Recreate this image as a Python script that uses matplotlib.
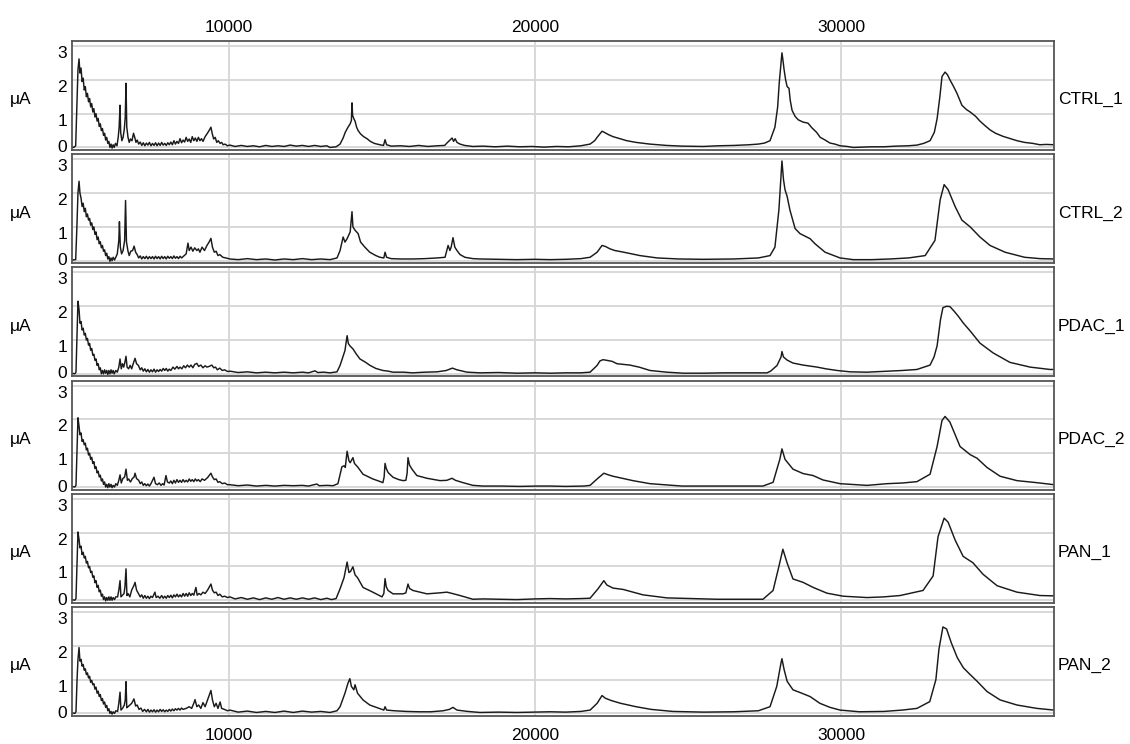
import matplotlib
matplotlib.use("Agg")
import matplotlib.pyplot as plt
import matplotlib.transforms as mtransforms
import numpy as np

plt.rcParams['font.family'] = ['Liberation Sans', 'DejaVu Sans']

# ---------------- data (m/z, current in uA) ----------------
samples = ["CTRL_1", "CTRL_2", "PDAC_1", "PDAC_2", "PAN_1", "PAN_2"]

ctrl_1 = [
    (4870, 0.02), (4930, 0.0), (4990, 0.05), (5030, 1.3), (5065, 2.3), (5100, 2.62), (5130, 2.2), (5165, 2.35),
    (5200, 1.95), (5235, 2.05), (5270, 1.7), (5305, 1.8), (5340, 1.5), (5375, 1.6), (5410, 1.35), (5445, 1.45),
    (5480, 1.2), (5515, 1.3), (5550, 1.05), (5585, 1.15), (5620, 0.9), (5655, 1.0), (5690, 0.78), (5725, 0.86),
    (5760, 0.62), (5795, 0.7), (5830, 0.5), (5865, 0.56), (5900, 0.36), (5935, 0.42), (5970, 0.22), (6005, 0.3),
    (6040, 0.12), (6075, 0.18), (6110, 0.0), (6145, 0.1), (6180, -0.02), (6215, 0.08), (6250, 0.0), (6290, 0.12),
    (6340, 0.05), (6380, 0.3), (6410, 0.6), (6440, 1.25), (6460, 0.45), (6500, 0.2), (6540, 0.3), (6580, 0.55),
    (6610, 0.9), (6635, 1.9), (6660, 0.6), (6700, 0.3), (6740, 0.15), (6780, 0.25), (6830, 0.2), (6880, 0.42),
    (6920, 0.3), (6960, 0.15), (7000, 0.22), (7050, 0.1), (7100, 0.16), (7150, 0.06), (7200, 0.14), (7250, 0.05),
    (7300, 0.13), (7350, 0.07), (7400, 0.15), (7450, 0.05), (7500, 0.12), (7550, 0.06), (7600, 0.14), (7650, 0.05),
    (7700, 0.13), (7750, 0.06), (7800, 0.15), (7850, 0.07), (7900, 0.12), (7950, 0.06), (8000, 0.14), (8050, 0.08),
    (8100, 0.16), (8150, 0.08), (8200, 0.2), (8250, 0.1), (8300, 0.18), (8350, 0.12), (8400, 0.26), (8450, 0.14),
    (8500, 0.22), (8550, 0.16), (8600, 0.3), (8650, 0.18), (8700, 0.25), (8750, 0.15), (8800, 0.32), (8850, 0.2),
    (8900, 0.28), (8950, 0.18), (9000, 0.3), (9050, 0.2), (9100, 0.26), (9150, 0.18), (9220, 0.32), (9280, 0.4),
    (9350, 0.5), (9410, 0.6), (9450, 0.42), (9500, 0.25), (9550, 0.3), (9600, 0.15), (9650, 0.2), (9710, 0.12),
    (9760, 0.15), (9810, 0.08), (9870, 0.1), (9950, 0.05), (10030, 0.07), (10200, 0.03), (10400, 0.06), (10600, 0.03),
    (10800, 0.05), (11000, 0.02), (11200, 0.06), (11400, 0.03), (11600, 0.05), (11800, 0.03), (12000, 0.07),
    (12200, 0.04), (12400, 0.06), (12600, 0.03), (12800, 0.06), (13000, 0.03), (13200, 0.05), (13300, 0.0),
    (13500, 0.02), (13630, 0.1), (13730, 0.28), (13800, 0.45), (13890, 0.6), (13960, 0.7), (14000, 0.8),
    (14020, 1.32), (14040, 0.95), (14080, 0.85), (14120, 0.78), (14170, 0.6), (14220, 0.5), (14300, 0.4),
    (14400, 0.32), (14510, 0.26), (14620, 0.18), (14750, 0.12), (14930, 0.08), (15050, 0.06), (15100, 0.23),
    (15150, 0.08), (15300, 0.04), (15600, 0.05), (15900, 0.03), (16200, 0.06), (16500, 0.03), (16800, 0.05),
    (17050, 0.06), (17120, 0.13), (17200, 0.2), (17290, 0.28), (17340, 0.18), (17390, 0.26), (17450, 0.15),
    (17550, 0.1), (17700, 0.06), (17970, 0.03), (18300, 0.04), (18700, 0.02), (19100, 0.04), (19500, 0.02),
    (19900, 0.03), (20300, 0.01), (20700, 0.03), (21100, 0.02), (21500, 0.05), (21800, 0.1), (21950, 0.2),
    (22030, 0.3), (22120, 0.4), (22190, 0.48), (22260, 0.45), (22400, 0.38), (22550, 0.32), (22780, 0.26),
    (23000, 0.2), (23300, 0.15), (23750, 0.1), (24300, 0.06), (24800, 0.04), (25500, 0.03), (26000, 0.05),
    (26500, 0.06), (27000, 0.08), (27300, 0.1), (27500, 0.13), (27680, 0.2), (27840, 0.6), (27930, 1.2),
    (27980, 1.9), (28040, 2.5), (28070, 2.8), (28100, 2.6), (28140, 2.3), (28190, 2.0), (28240, 1.8),
    (28300, 1.75), (28340, 1.4), (28400, 1.1), (28500, 0.92), (28600, 0.82), (28760, 0.75), (28920, 0.72),
    (29050, 0.58), (29200, 0.45), (29320, 0.3), (29480, 0.22), (29640, 0.13), (29800, 0.1), (29970, 0.05),
    (30200, 0.03), (30400, 0.0), (30700, 0.01), (31000, 0.02), (31400, 0.02), (31800, 0.04), (32200, 0.05),
    (32480, 0.07), (32700, 0.12), (32910, 0.2), (33050, 0.45), (33140, 0.85), (33230, 1.5), (33300, 2.1),
    (33400, 2.23), (33480, 2.15), (33560, 2.0), (33680, 1.8), (33790, 1.6), (33950, 1.25), (34100, 1.12),
    (34220, 1.05), (34400, 0.92), (34540, 0.78), (34700, 0.65), (34870, 0.52), (35050, 0.42), (35290, 0.33),
    (35500, 0.27), (35750, 0.2), (36000, 0.15), (36270, 0.12), (36500, 0.08), (36700, 0.09), (36960, 0.08),
]

ctrl_2 = [
    (4870, 0.02), (4990, 0.03), (5030, 1.0), (5065, 2.0), (5100, 2.35), (5130, 2.0), (5165, 1.85), (5200, 1.6),
    (5235, 1.7), (5270, 1.45), (5305, 1.55), (5340, 1.3), (5375, 1.38), (5410, 1.2), (5445, 1.25), (5480, 1.05),
    (5515, 1.12), (5550, 0.92), (5585, 1.0), (5620, 0.78), (5655, 0.85), (5690, 0.62), (5725, 0.7), (5760, 0.5),
    (5795, 0.56), (5830, 0.38), (5865, 0.45), (5900, 0.28), (5935, 0.32), (5970, 0.15), (6005, 0.22), (6040, 0.05),
    (6075, 0.12), (6110, -0.02), (6145, 0.08), (6180, 0.0), (6215, 0.1), (6260, 0.02), (6300, 0.1), (6350, 0.2),
    (6400, 0.6), (6420, 1.15), (6450, 0.4), (6490, 0.2), (6540, 0.3), (6590, 0.6), (6620, 1.78), (6650, 0.55),
    (6700, 0.28), (6740, 0.15), (6790, 0.28), (6850, 0.3), (6900, 0.43), (6950, 0.25), (7000, 0.18), (7050, 0.08),
    (7100, 0.14), (7150, 0.05), (7200, 0.12), (7250, 0.06), (7300, 0.13), (7350, 0.05), (7400, 0.12), (7450, 0.06),
    (7500, 0.12), (7550, 0.05), (7600, 0.13), (7650, 0.06), (7700, 0.12), (7750, 0.05), (7800, 0.13), (7850, 0.06),
    (7900, 0.12), (7950, 0.05), (8000, 0.13), (8050, 0.07), (8100, 0.12), (8150, 0.06), (8200, 0.14), (8250, 0.07),
    (8300, 0.12), (8350, 0.06), (8400, 0.13), (8450, 0.08), (8500, 0.12), (8600, 0.2), (8660, 0.52), (8700, 0.3),
    (8760, 0.4), (8820, 0.28), (8880, 0.38), (8950, 0.3), (9000, 0.35), (9050, 0.25), (9120, 0.4), (9200, 0.3),
    (9280, 0.45), (9350, 0.55), (9410, 0.66), (9460, 0.4), (9520, 0.25), (9580, 0.28), (9640, 0.15), (9700, 0.18),
    (9800, 0.1), (9900, 0.08), (10030, 0.05), (10300, 0.03), (10600, 0.06), (10900, 0.03), (11200, 0.05),
    (11500, 0.02), (11800, 0.05), (12100, 0.03), (12400, 0.06), (12700, 0.03), (13000, 0.05), (13300, 0.03),
    (13530, 0.08), (13630, 0.3), (13730, 0.7), (13790, 0.55), (13860, 0.65), (13960, 0.85), (14020, 1.45),
    (14050, 1.0), (14120, 0.9), (14220, 0.8), (14300, 0.55), (14440, 0.4), (14600, 0.25), (14800, 0.15),
    (14935, 0.1), (15060, 0.08), (15100, 0.25), (15150, 0.1), (15300, 0.06), (15600, 0.05), (16000, 0.05),
    (16400, 0.06), (16800, 0.08), (17060, 0.1), (17160, 0.45), (17220, 0.3), (17260, 0.4), (17320, 0.68),
    (17380, 0.4), (17450, 0.3), (17550, 0.18), (17710, 0.1), (17970, 0.06), (18200, 0.05), (18800, 0.04),
    (19400, 0.03), (20000, 0.04), (20500, 0.03), (21000, 0.04), (21500, 0.06), (21800, 0.1), (22030, 0.25),
    (22190, 0.45), (22300, 0.42), (22450, 0.35), (22610, 0.3), (22900, 0.25), (23430, 0.15), (24000, 0.08),
    (24700, 0.05), (25500, 0.04), (26500, 0.05), (27300, 0.08), (27680, 0.15), (27840, 0.4), (27970, 1.5),
    (28040, 2.5), (28070, 2.95), (28120, 2.4), (28170, 2.1), (28240, 1.9), (28330, 1.5), (28500, 0.95),
    (28660, 0.8), (28990, 0.65), (29150, 0.5), (29480, 0.25), (29970, 0.08), (30400, 0.03), (31000, 0.03),
    (31600, 0.05), (32200, 0.08), (32750, 0.15), (33070, 0.6), (33240, 1.8), (33370, 2.25), (33500, 2.1),
    (33730, 1.6), (33950, 1.2), (34220, 1.0), (34540, 0.7), (34870, 0.45), (35360, 0.25), (36000, 0.1),
    (36500, 0.06), (36960, 0.05),
]

pdac_1 = [
    (4870, 0.02), (4960, 0.0), (5000, 0.05), (5035, 1.2), (5065, 2.15), (5100, 1.9), (5130, 1.5), (5165, 1.55),
    (5200, 1.3), (5235, 1.35), (5270, 1.15), (5305, 1.2), (5340, 1.0), (5375, 1.05), (5410, 0.85), (5445, 0.9),
    (5480, 0.7), (5515, 0.75), (5550, 0.55), (5585, 0.58), (5620, 0.4), (5655, 0.44), (5690, 0.25), (5725, 0.3),
    (5760, 0.12), (5795, 0.18), (5830, 0.0), (5865, 0.1), (5900, 0.0), (5935, 0.12), (5970, 0.02), (6005, 0.1),
    (6040, -0.02), (6075, 0.1), (6110, 0.0), (6145, 0.12), (6180, 0.02), (6215, 0.1), (6250, 0.0), (6300, 0.1),
    (6350, 0.05), (6400, 0.2), (6440, 0.44), (6480, 0.15), (6520, 0.3), (6560, 0.2), (6600, 0.35), (6635, 0.52),
    (6670, 0.2), (6720, 0.15), (6770, 0.25), (6820, 0.15), (6870, 0.3), (6930, 0.46), (6980, 0.3), (7040, 0.25),
    (7100, 0.12), (7150, 0.18), (7200, 0.08), (7250, 0.15), (7300, 0.06), (7350, 0.13), (7400, 0.05), (7450, 0.12),
    (7500, 0.06), (7550, 0.14), (7600, 0.05), (7650, 0.12), (7700, 0.07), (7750, 0.13), (7800, 0.08), (7850, 0.16),
    (7900, 0.1), (7950, 0.16), (8000, 0.08), (8050, 0.14), (8100, 0.1), (8170, 0.2), (8230, 0.14), (8300, 0.22),
    (8350, 0.15), (8400, 0.2), (8460, 0.15), (8520, 0.24), (8580, 0.18), (8640, 0.26), (8700, 0.2), (8760, 0.26),
    (8820, 0.18), (8880, 0.28), (8950, 0.31), (9010, 0.22), (9080, 0.26), (9150, 0.18), (9220, 0.24), (9280, 0.2),
    (9350, 0.22), (9440, 0.26), (9500, 0.18), (9560, 0.2), (9620, 0.12), (9700, 0.17), (9780, 0.1), (9860, 0.12),
    (9950, 0.07), (10030, 0.08), (10300, 0.04), (10600, 0.06), (10900, 0.03), (11200, 0.05), (11500, 0.03),
    (11800, 0.05), (12100, 0.03), (12400, 0.05), (12600, 0.03), (12810, 0.09), (12900, 0.04), (13100, 0.05),
    (13300, 0.03), (13530, 0.06), (13630, 0.25), (13790, 0.69), (13860, 1.13), (13900, 0.9), (13950, 0.83),
    (14050, 0.74), (14150, 0.6), (14280, 0.44), (14450, 0.35), (14610, 0.25), (14800, 0.16), (15030, 0.1),
    (15200, 0.08), (15360, 0.05), (15700, 0.05), (16000, 0.03), (16400, 0.05), (16800, 0.06), (17100, 0.1),
    (17300, 0.17), (17450, 0.12), (17780, 0.05), (18200, 0.03), (18800, 0.04), (19400, 0.02), (20000, 0.03),
    (20500, 0.02), (21000, 0.03), (21500, 0.03), (21800, 0.05), (22030, 0.25), (22120, 0.38), (22220, 0.42),
    (22350, 0.4), (22520, 0.37), (22680, 0.3), (23100, 0.26), (23400, 0.2), (23760, 0.1), (24300, 0.05),
    (24840, 0.02), (25500, 0.02), (26200, 0.03), (27000, 0.03), (27580, 0.03), (27700, 0.08), (27910, 0.25),
    (28040, 0.5), (28070, 0.66), (28120, 0.5), (28235, 0.41), (28430, 0.32), (28760, 0.26), (29220, 0.2),
    (29500, 0.15), (29870, 0.1), (30300, 0.06), (30850, 0.05), (31500, 0.08), (32000, 0.1), (32480, 0.13),
    (32910, 0.26), (33040, 0.5), (33140, 0.83), (33250, 1.6), (33330, 1.96), (33450, 2.0), (33560, 1.99),
    (33700, 1.85), (33820, 1.72), (34000, 1.5), (34220, 1.27), (34540, 0.91), (34970, 0.62), (35520, 0.34),
    (36180, 0.2), (36830, 0.13), (36960, 0.13),
]

pdac_2 = [
    (4870, 0.02), (4960, 0.0), (5000, 0.05), (5035, 1.1), (5065, 2.05), (5100, 1.8), (5130, 1.55), (5165, 1.6),
    (5200, 1.35), (5235, 1.4), (5270, 1.25), (5305, 1.3), (5340, 1.1), (5375, 1.15), (5410, 0.95), (5445, 1.0),
    (5480, 0.82), (5515, 0.88), (5550, 0.7), (5585, 0.75), (5620, 0.55), (5655, 0.6), (5690, 0.42), (5725, 0.47),
    (5760, 0.3), (5795, 0.35), (5830, 0.18), (5865, 0.24), (5900, 0.08), (5935, 0.15), (5970, 0.0), (6005, 0.08),
    (6040, -0.02), (6075, 0.1), (6110, 0.0), (6145, 0.08), (6180, -0.02), (6215, 0.05), (6260, 0.0), (6300, 0.1),
    (6350, 0.05), (6400, 0.2), (6440, 0.36), (6480, 0.12), (6530, 0.25), (6590, 0.3), (6635, 0.53), (6680, 0.2),
    (6720, 0.24), (6780, 0.15), (6840, 0.25), (6900, 0.3), (6930, 0.41), (6980, 0.25), (7050, 0.2), (7100, 0.1),
    (7150, 0.15), (7200, 0.05), (7250, 0.1), (7300, 0.04), (7350, 0.09), (7400, 0.03), (7450, 0.1), (7550, 0.29),
    (7600, 0.1), (7660, 0.07), (7720, 0.12), (7780, 0.05), (7830, 0.1), (7880, 0.06), (7940, 0.34), (7990, 0.15),
    (8050, 0.12), (8100, 0.18), (8150, 0.1), (8200, 0.2), (8250, 0.12), (8300, 0.22), (8350, 0.14), (8400, 0.2),
    (8450, 0.14), (8500, 0.22), (8550, 0.15), (8600, 0.2), (8650, 0.15), (8700, 0.24), (8750, 0.17), (8800, 0.22),
    (8850, 0.16), (8900, 0.24), (8950, 0.18), (9000, 0.22), (9060, 0.16), (9120, 0.24), (9200, 0.2), (9300, 0.28),
    (9410, 0.41), (9460, 0.3), (9520, 0.22), (9580, 0.24), (9640, 0.14), (9700, 0.16), (9780, 0.1), (9860, 0.12),
    (9950, 0.07), (10030, 0.07), (10300, 0.04), (10600, 0.06), (10900, 0.03), (11200, 0.05), (11500, 0.03),
    (11800, 0.05), (12100, 0.04), (12400, 0.05), (12600, 0.03), (12870, 0.09), (12950, 0.04), (13200, 0.05),
    (13400, 0.04), (13560, 0.1), (13690, 0.6), (13760, 0.63), (13800, 0.58), (13860, 1.06), (13920, 0.78),
    (13960, 0.72), (14050, 0.87), (14100, 0.7), (14200, 0.6), (14380, 0.38), (14700, 0.24), (14950, 0.16),
    (15030, 0.13), (15070, 0.3), (15100, 0.7), (15140, 0.55), (15200, 0.43), (15360, 0.29), (15550, 0.22),
    (15690, 0.19), (15780, 0.2), (15820, 0.4), (15850, 0.87), (15900, 0.65), (15980, 0.53), (16140, 0.34),
    (16470, 0.26), (16900, 0.19), (17120, 0.2), (17290, 0.26), (17400, 0.2), (17650, 0.13), (17970, 0.05),
    (18300, 0.03), (18900, 0.03), (19500, 0.02), (20100, 0.03), (20500, 0.03), (21000, 0.02), (21600, 0.03),
    (21800, 0.05), (22030, 0.24), (22250, 0.41), (22400, 0.36), (22550, 0.32), (23200, 0.19), (23760, 0.1),
    (24800, 0.03), (26000, 0.03), (27450, 0.03), (27780, 0.14), (28000, 0.82), (28070, 1.13), (28170, 0.82),
    (28430, 0.53), (28760, 0.4), (29090, 0.34), (29410, 0.21), (29970, 0.1), (30850, 0.05), (31500, 0.1),
    (32000, 0.12), (32480, 0.16), (32910, 0.38), (33140, 1.2), (33300, 1.97), (33400, 2.09), (33560, 1.92),
    (33890, 1.2), (34220, 0.96), (34450, 0.85), (34770, 0.58), (35200, 0.32), (35750, 0.19), (36400, 0.13),
    (36960, 0.07),
]

pan_1 = [
    (4870, 0.02), (4960, 0.0), (5000, 0.05), (5035, 1.1), (5065, 2.02), (5100, 1.8), (5130, 1.55), (5165, 1.6),
    (5200, 1.35), (5235, 1.42), (5270, 1.25), (5305, 1.3), (5340, 1.1), (5375, 1.15), (5410, 0.96), (5445, 1.0),
    (5480, 0.82), (5515, 0.86), (5550, 0.68), (5585, 0.72), (5620, 0.52), (5655, 0.58), (5690, 0.38), (5725, 0.44),
    (5760, 0.25), (5795, 0.3), (5830, 0.12), (5865, 0.18), (5900, 0.02), (5935, 0.1), (5970, -0.02), (6005, 0.08),
    (6040, 0.0), (6075, 0.1), (6110, 0.0), (6145, 0.1), (6180, 0.0), (6215, 0.08), (6260, 0.02), (6300, 0.1),
    (6360, 0.1), (6400, 0.3), (6440, 0.58), (6470, 0.1), (6520, 0.15), (6570, 0.2), (6600, 0.4), (6635, 0.93),
    (6665, 0.14), (6700, 0.2), (6760, 0.1), (6820, 0.3), (6900, 0.45), (6930, 0.53), (6980, 0.3), (7040, 0.2),
    (7100, 0.1), (7150, 0.16), (7200, 0.06), (7250, 0.14), (7300, 0.06), (7350, 0.12), (7400, 0.05), (7450, 0.12),
    (7500, 0.08), (7580, 0.24), (7620, 0.08), (7680, 0.12), (7740, 0.06), (7800, 0.14), (7850, 0.06), (7900, 0.12),
    (7950, 0.06), (8000, 0.14), (8050, 0.08), (8100, 0.15), (8150, 0.07), (8200, 0.16), (8250, 0.1), (8300, 0.18),
    (8350, 0.1), (8400, 0.16), (8450, 0.1), (8500, 0.2), (8550, 0.12), (8600, 0.2), (8650, 0.12), (8700, 0.22),
    (8750, 0.14), (8800, 0.2), (8850, 0.15), (8920, 0.38), (8960, 0.15), (9020, 0.2), (9080, 0.16), (9150, 0.24),
    (9220, 0.2), (9300, 0.3), (9410, 0.48), (9460, 0.3), (9520, 0.22), (9580, 0.24), (9640, 0.14), (9700, 0.18),
    (9780, 0.1), (9860, 0.12), (9950, 0.08), (10030, 0.1), (10200, 0.04), (10400, 0.08), (10600, 0.03),
    (10800, 0.07), (11000, 0.02), (11200, 0.07), (11400, 0.03), (11600, 0.08), (11800, 0.03), (12000, 0.07),
    (12200, 0.03), (12400, 0.07), (12600, 0.03), (12800, 0.07), (13000, 0.02), (13200, 0.06), (13350, 0.02),
    (13500, 0.05), (13630, 0.34), (13760, 0.67), (13860, 1.13), (13920, 0.82), (13970, 0.85), (14050, 0.99),
    (14120, 0.75), (14200, 0.67), (14380, 0.38), (14700, 0.24), (15000, 0.1), (15060, 0.2), (15100, 0.64),
    (15140, 0.4), (15200, 0.29), (15360, 0.19), (15690, 0.19), (15780, 0.22), (15850, 0.48), (15900, 0.35),
    (16010, 0.29), (16470, 0.19), (16900, 0.22), (17120, 0.24), (17300, 0.2), (17550, 0.14), (17970, 0.03),
    (18300, 0.04), (18800, 0.03), (19400, 0.02), (20000, 0.04), (20500, 0.05), (21000, 0.04), (21500, 0.05),
    (21800, 0.06), (22060, 0.34), (22250, 0.58), (22350, 0.45), (22550, 0.36), (22880, 0.32), (23530, 0.16),
    (24310, 0.07), (25950, 0.03), (27450, 0.03), (27780, 0.29), (27970, 1.0), (28100, 1.51), (28170, 1.3),
    (28240, 1.1), (28430, 0.63), (28760, 0.53), (29090, 0.38), (29540, 0.21), (30070, 0.12), (30850, 0.08),
    (31400, 0.1), (31930, 0.14), (32680, 0.29), (33010, 0.72), (33170, 1.88), (33370, 2.43), (33500, 2.31),
    (33730, 1.78), (33990, 1.3), (34310, 1.11), (34640, 0.77), (35100, 0.43), (35750, 0.24), (36500, 0.14),
    (36960, 0.13),
]

pan_2 = [
    (4870, 0.02), (4960, 0.0), (5000, 0.05), (5035, 1.0), (5065, 1.6), (5100, 1.95), (5130, 1.55), (5165, 1.6),
    (5200, 1.4), (5235, 1.45), (5270, 1.28), (5305, 1.32), (5340, 1.15), (5375, 1.2), (5410, 1.05), (5445, 1.1),
    (5480, 0.92), (5515, 0.98), (5550, 0.85), (5585, 0.88), (5620, 0.72), (5655, 0.78), (5690, 0.6), (5725, 0.66),
    (5760, 0.5), (5795, 0.56), (5830, 0.38), (5865, 0.44), (5900, 0.28), (5935, 0.34), (5970, 0.18), (6005, 0.24),
    (6040, 0.08), (6075, 0.14), (6110, 0.0), (6145, 0.06), (6180, -0.02), (6215, 0.05), (6260, 0.0), (6300, 0.08),
    (6360, 0.06), (6400, 0.3), (6440, 0.63), (6470, 0.1), (6520, 0.15), (6580, 0.25), (6610, 0.4), (6635, 0.94),
    (6660, 0.17), (6700, 0.2), (6760, 0.25), (6820, 0.3), (6895, 0.43), (6950, 0.22), (7000, 0.25), (7060, 0.12),
    (7120, 0.16), (7180, 0.06), (7240, 0.12), (7300, 0.05), (7350, 0.12), (7400, 0.04), (7450, 0.1), (7500, 0.05),
    (7550, 0.11), (7600, 0.04), (7650, 0.1), (7700, 0.05), (7750, 0.12), (7800, 0.06), (7850, 0.11), (7900, 0.05),
    (7950, 0.1), (8000, 0.06), (8050, 0.12), (8100, 0.07), (8150, 0.13), (8200, 0.08), (8250, 0.14), (8300, 0.1),
    (8350, 0.15), (8400, 0.1), (8450, 0.16), (8500, 0.12), (8600, 0.15), (8700, 0.2), (8780, 0.15), (8850, 0.3),
    (8890, 0.41), (8950, 0.2), (9010, 0.25), (9080, 0.15), (9150, 0.32), (9220, 0.2), (9300, 0.4), (9410, 0.68),
    (9460, 0.4), (9520, 0.2), (9580, 0.3), (9640, 0.15), (9710, 0.34), (9760, 0.15), (9850, 0.12), (9950, 0.08),
    (10030, 0.1), (10300, 0.04), (10600, 0.07), (10900, 0.03), (11200, 0.06), (11500, 0.03), (11800, 0.07),
    (12100, 0.03), (12400, 0.07), (12700, 0.04), (13000, 0.06), (13300, 0.03), (13530, 0.08), (13630, 0.2),
    (13790, 0.6), (13890, 0.9), (13950, 1.03), (14000, 0.8), (14080, 0.7), (14120, 0.85), (14200, 0.6),
    (14380, 0.4), (14600, 0.25), (14900, 0.15), (15060, 0.1), (15100, 0.2), (15150, 0.1), (15400, 0.08),
    (15800, 0.06), (16200, 0.05), (16600, 0.05), (17000, 0.08), (17200, 0.12), (17320, 0.18), (17450, 0.1),
    (17800, 0.06), (18200, 0.03), (18800, 0.04), (19400, 0.03), (20000, 0.04), (20500, 0.05), (21000, 0.04),
    (21500, 0.06), (21800, 0.1), (22030, 0.3), (22190, 0.53), (22300, 0.45), (22500, 0.38), (22800, 0.3),
    (23300, 0.2), (23800, 0.12), (24500, 0.06), (25500, 0.04), (26500, 0.05), (27300, 0.08), (27680, 0.2),
    (27900, 0.8), (28040, 1.5), (28070, 1.62), (28140, 1.3), (28240, 0.95), (28430, 0.7), (28660, 0.62),
    (28990, 0.5), (29310, 0.3), (29640, 0.18), (29970, 0.1), (30600, 0.05), (31400, 0.06), (32000, 0.1),
    (32480, 0.15), (32900, 0.35), (33100, 1.0), (33200, 1.9), (33330, 2.56), (33450, 2.5), (33600, 2.1),
    (33800, 1.65), (34000, 1.35), (34220, 1.15), (34450, 0.95), (34770, 0.65), (35200, 0.4), (35750, 0.25),
    (36400, 0.15), (36960, 0.1),
]

traces = [ctrl_1, ctrl_2, pdac_1, pdac_2, pan_1, pan_2]
x_ticks = [10000, 20000, 30000]
x_tick_labels = ["10000", "20000", "30000"]
y_ticks = [0, 1, 2, 3]
y_tick_labels = ["0", "1", "2", "3"]
x_range = (4870, 36960)
y_range = (-0.075, 3.15)
y_label = "μA"

# ---------------- layout ----------------
W, H = 1130, 744
fig = plt.figure(figsize=(W / 100, H / 100), dpi=100)
left_px, right_px = 72, 1054
top0, step, height = 41, 113.2, 109
FS = 12.5

for i, (name, data) in enumerate(zip(samples, traces)):
    top = top0 + i * step
    ax = fig.add_axes([left_px / W, 1 - (top + height) / H, (right_px - left_px) / W, height / H])
    arr = np.array(data, dtype=float)
    ax.plot(arr[:, 0], arr[:, 1], color='#1a1a1a', lw=1.05)
    ax.set_xlim(*x_range)
    ax.set_ylim(*y_range)
    ax.set_xticks(x_ticks)
    ax.set_yticks(y_ticks)
    ax.set_yticklabels([])
    ax.grid(True, color='#d6d6d6', lw=1.3)
    ax.set_axisbelow(True)
    ax.tick_params(axis='y', length=0)
    ax.tick_params(axis='x', length=0, labelsize=FS)
    if i == 0:
        ax.tick_params(axis='x', labeltop=True, labelbottom=False, pad=4.5)
        ax.set_xticklabels(x_tick_labels)
    elif i == len(samples) - 1:
        ax.tick_params(axis='x', labeltop=False, labelbottom=True, pad=9)
        ax.set_xticklabels(x_tick_labels)
    else:
        ax.tick_params(axis='x', labeltop=False, labelbottom=False)
    for sp in ax.spines.values():
        sp.set_color('#555555')
        sp.set_linewidth(1.3)

    # y tick labels: digits hang just below their grid line, "0" sits on the base line
    trans = mtransforms.offset_copy(
        mtransforms.blended_transform_factory(ax.transAxes, ax.transData),
        fig=fig, x=-5, y=0, units='dots')
    for val, lab in zip(y_ticks, y_tick_labels):
        if val == 0:
            ax.text(0, val, lab, transform=trans, ha='right', va='center', fontsize=FS)
        else:
            ax.text(0, val, lab, transform=trans, ha='right', va='top', fontsize=FS)

    ax.text(-0.052, 0.46, y_label, transform=ax.transAxes, ha='center', va='center', fontsize=FS)
    ax.text(1.004, 0.46, name, transform=ax.transAxes, ha='left', va='center', fontsize=FS)

fig.savefig("out.png", dpi=100)
